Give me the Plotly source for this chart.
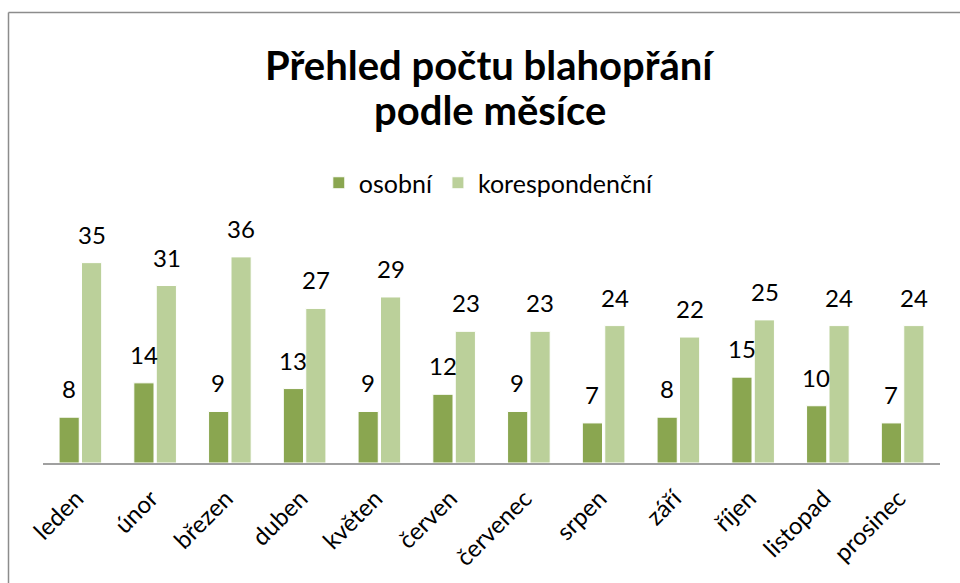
import plotly.graph_objects as go

months = ["leden", "únor", "březen", "duben", "květen", "červen",
          "červenec", "srpen", "září", "říjen", "listopad", "prosinec"]
osobni = [8, 14, 9, 13, 9, 12, 9, 7, 8, 15, 10, 7]
korespondencni = [35, 31, 36, 27, 29, 23, 23, 24, 22, 25, 24, 24]
title_lines = ["Přehled počtu blahopřání", "podle měsíce"]

FONT = "Lato"
C1 = "#8AA650"
C2 = "#BBD09A"

fig = go.Figure()
fig.add_trace(go.Bar(x=months, y=osobni, name="osobní",
                     marker=dict(color=C1, line=dict(color="white", width=1))))
fig.add_trace(go.Bar(x=months, y=korespondencni, name="korespondenční",
                     marker=dict(color=C2, line=dict(color="white", width=1))))

annotations = []
for series, shift in ((osobni, -11.5), (korespondencni, 11.5)):
    for m, v in zip(months, series):
        annotations.append(dict(x=m, y=v, xref="x", yref="y", text=str(v), showarrow=False,
                                xshift=shift, yshift=12, yanchor="bottom",
                                font=dict(size=24, family=FONT, color="black")))

# title lines (pixel centres 65 and 110 from the top)
for line, py in zip(title_lines, (65, 110)):
    annotations.append(dict(x=(490 - 43) / 897, y=(463 - py) / 229, xref="paper", yref="paper",
                            text=f"<b>{line}</b>", showarrow=False, xanchor="center", yanchor="middle",
                            font=dict(size=40, family=FONT, color="black")))

fig.update_layout(
    width=960, height=583,
    paper_bgcolor="white", plot_bgcolor="white",
    margin=dict(l=43, r=20, t=234, b=120, autoexpand=False),
    barmode="group", bargap=0.4, bargroupgap=0.1,
    font=dict(family=FONT, size=20, color="black"),
    legend=dict(orientation="h", x=0.497, xanchor="center", y=(463 - 183) / 229, yanchor="middle",
                font=dict(size=25, family=FONT), bgcolor="rgba(0,0,0,0)"),
    showlegend=True,
    annotations=annotations,
    xaxis=dict(showline=True, linecolor="#A0A0A0", linewidth=2, tickangle=-45,
               ticks="", tickfont=dict(size=24, family=FONT), showgrid=False, automargin=False,
               ticklabelstandoff=10, ticklabelshift=-4),
    yaxis=dict(range=[0, 40], visible=False, showgrid=False, automargin=False),
    shapes=[
        dict(type="line", xref="paper", yref="paper", x0=(8.5 - 43) / 897, x1=(962 - 43) / 897,
             y0=(463 - 12.5) / 229, y1=(463 - 12.5) / 229, line=dict(color="#8C8C8C", width=1.5)),
        dict(type="line", xref="paper", yref="paper", x0=(8.5 - 43) / 897, x1=(8.5 - 43) / 897,
             y0=(463 - 12.5) / 229, y1=(463 - 590) / 229, line=dict(color="#8C8C8C", width=1.5)),
    ],
)

fig.write_html("out.html", config={"displayModeBar": False},
               post_script="document.body.style.margin='0';")
